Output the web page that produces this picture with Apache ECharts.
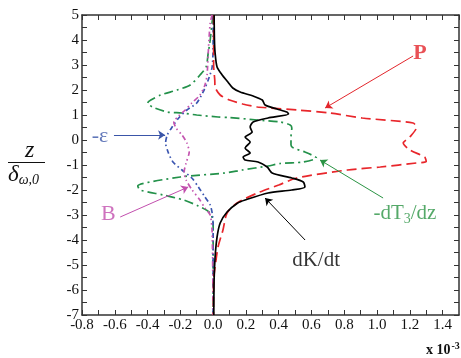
<!DOCTYPE html>
<html>
<head>
<meta charset="utf-8">
<script src="https://cdn.jsdelivr.net/npm/echarts@6/dist/echarts.min.js"></script>
<style>
  html, body { margin: 0; padding: 0; background: #fff; }
  #chart { width: 461px; height: 358px; }
</style>
</head>
<body>
<div id="chart"></div>
<script>
// Budget terms across the layer: [value (x 10^-3), z / delta_omega,0]
const dKdt = [[0.006,5],[0.008,4.0],[0.012,3.48],[0.024,2.92],[0.055,2.6],[0.09,2.32],[0.12,2.08],[0.165,1.92],[0.244,1.76],[0.30,1.6],[0.317,1.4],[0.39,1.24],[0.45,1.12],[0.46,1.04],[0.335,0.88],[0.244,0.72],[0.226,0.52],[0.238,0.32],[0.195,0.12],[0.226,-0.08],[0.195,-0.32],[0.226,-0.52],[0.183,-0.68],[0.195,-0.8],[0.274,-0.88],[0.33,-1.08],[0.36,-1.32],[0.48,-1.52],[0.55,-1.68],[0.56,-1.88],[0.48,-2.0],[0.335,-2.12],[0.195,-2.4],[0.15,-2.52],[0.085,-2.88],[0.043,-3.32],[0.024,-3.88],[0.012,-4.68],[0.006,-5.6],[0.004,-7]];
const production = [[0.003,5],[0.003,3.0],[0.01,2.4],[0.012,2.12],[0.043,1.8],[0.1,1.6],[0.18,1.44],[0.27,1.32],[0.35,1.28],[0.51,1.2],[0.71,1.08],[0.91,0.88],[1.22,0.68],[1.24,0.5],[1.2,0.12],[1.16,-0.12],[1.2,-0.4],[1.29,-0.68],[1.3,-0.86],[1.24,-0.92],[1.02,-1.08],[0.82,-1.2],[0.51,-1.52],[0.4,-1.8],[0.27,-2.12],[0.146,-2.52],[0.085,-2.92],[0.06,-3.6],[0.03,-4.28],[0.012,-5.08],[0.003,-5.6],[0.002,-7]];
const transport = [[0.0,5],[-0.006,4.72],[-0.018,4.0],[-0.03,3.48],[-0.043,2.92],[-0.08,2.6],[-0.14,2.2],[-0.22,2.0],[-0.32,1.8],[-0.38,1.6],[-0.4,1.48],[-0.37,1.32],[-0.28,1.12],[-0.19,1.08],[-0.1,1.0],[0.03,0.92],[0.1,0.9],[0.27,0.8],[0.41,0.72],[0.47,0.6],[0.48,0.48],[0.475,0.12],[0.475,-0.2],[0.49,-0.32],[0.56,-0.48],[0.63,-0.72],[0.55,-0.88],[0.41,-0.94],[0.335,-1.04],[0.177,-1.2],[0.073,-1.32],[-0.2,-1.48],[-0.46,-1.84],[-0.445,-2.0],[-0.305,-2.2],[-0.18,-2.4],[-0.09,-2.64],[-0.018,-2.92],[0.0,-3.32],[0.0,-7]];
const dissipation = [[0,5],[0,3.88],[-0.006,2.92],[-0.03,2.4],[-0.055,2.0],[-0.1,1.48],[-0.16,1.2],[-0.21,0.88],[-0.25,0.52],[-0.28,0.2],[-0.29,-0.12],[-0.275,-0.48],[-0.245,-0.88],[-0.19,-1.2],[-0.13,-1.52],[-0.09,-1.88],[-0.05,-2.28],[-0.018,-2.6],[-0.006,-2.92],[0,-3.4],[0,-7]];
const buoyancy = [[-0.006,5],[-0.018,4.68],[-0.03,3.48],[-0.037,2.6],[-0.05,2.2],[-0.08,1.8],[-0.13,1.48],[-0.17,1.2],[-0.21,0.96],[-0.24,0.72],[-0.226,0.48],[-0.19,0.2],[-0.16,-0.12],[-0.146,-0.48],[-0.165,-0.92],[-0.177,-1.28],[-0.165,-1.6],[-0.128,-2.0],[-0.085,-2.36],[-0.05,-2.72],[-0.018,-3.0],[-0.006,-3.68],[0,-7]];

// Axis ranges
const xRange = [-0.8, 1.5];
const yRange = [-7, 5];

// Annotation text anchors and arrows, in data units
const annoText = [
  { name: 'P', at: [1.262, 3.48], color: '#e3262c', size: 22, bold: true },
  { name: '-ε', at: [-0.69, 0.14], color: '#3a55a8', size: 22 },
  { name: 'B', at: [-0.64, -2.96], color: '#c24fae', size: 22 },
  { name: '-dT3/dz', at: [1.17, -2.92], color: '#2a9444', size: 21 },
  { name: 'dK/dt', at: [0.628, -4.8], color: '#000000', size: 21 }
];
const annoArrows = [
  { from: [1.22, 3.36], to: [0.683, 1.28], color: '#e3262c' },
  { from: [-0.605, 0.2], to: [-0.293, 0.2], color: '#3a55a8' },
  { from: [-0.567, -3.08], to: [-0.152, -1.88], color: '#c24fae' },
  { from: [1.037, -2.32], to: [0.652, -0.8], color: '#2a9444' },
  { from: [0.561, -4.0], to: [0.317, -2.32], color: '#000000' }
];

const serif = 'Liberation Serif';
const axisCol = '#333';

function baseX(pos, showLabels) {
  return {
    type: 'value', position: pos, min: xRange[0], max: xRange[1], interval: 0.1,
    axisLine: { show: true, onZero: false, lineStyle: { color: axisCol, width: 1.5 } },
    axisTick: { show: true, inside: true, length: 5, lineStyle: { color: axisCol, width: 1 } },
    splitLine: { show: false },
    axisLabel: {
      show: showLabels, margin: 3, color: '#111', fontFamily: serif, fontSize: 15,
      showMaxLabel: false,
      formatter: v => {
        const k = Math.round(v * 10);
        if (k % 2 !== 0 || k === 15) return '';
        return (k / 10).toFixed(1);
      }
    }
  };
}
function baseY(pos, showLabels) {
  return {
    type: 'value', position: pos, min: yRange[0], max: yRange[1], interval: 0.5,
    axisLine: { show: true, onZero: false, lineStyle: { color: axisCol, width: 1.5 } },
    axisTick: { show: true, inside: true, length: 5, lineStyle: { color: axisCol, width: 1 } },
    splitLine: { show: false },
    axisLabel: {
      show: showLabels, margin: 3, color: '#111', fontFamily: serif, fontSize: 15,
      formatter: v => {
        const k = Math.round(v * 2);
        if (k % 2 !== 0) return '';
        return String(k / 2);
      }
    }
  };
}

function curve(name, data, color, dash, width) {
  return {
    name, type: 'line', data, smooth: 0.25, symbol: 'none',
    xAxisIndex: 0, yAxisIndex: 0,
    lineStyle: { color, width: width || 1.7, type: dash, cap: 'butt' },
    z: 3
  };
}

const chart = echarts.init(document.getElementById('chart'), null, { renderer: 'canvas' });

chart.setOption({
  animation: false,
  backgroundColor: '#fff',
  grid: { left: 82, right: 2, top: 15, bottom: 43 },
  xAxis: [baseX('bottom', true), baseX('top', false)],
  yAxis: [baseY('left', true), baseY('right', false)],
  series: [
    curve('-dT3/dz', transport, '#23914a', [9, 4, 2, 4]),
    curve('-ε', dissipation, '#3a55b0', [5, 3, 1.5, 3]),
    curve('B', buoyancy, '#c455b0', [5, 3, 1.5, 3, 1.5, 3]),
    curve('P', production, '#e8262b', [10, 5]),
    curve('dK/dt', dKdt, '#000000', 'solid', 1.7),
    {
      type: 'lines', coordinateSystem: 'cartesian2d', xAxisIndex: 0, yAxisIndex: 0,
      symbol: ['none', 'arrow'], symbolSize: [0, 7], z: 5,
      data: annoArrows.map(a => ({
        coords: [a.from, a.to],
        lineStyle: { color: a.color, width: 1, type: 'solid', opacity: 1 }
      }))
    },
    {
      type: 'scatter', xAxisIndex: 0, yAxisIndex: 0, symbolSize: 0, z: 6,
      data: annoText.map(t => ({
        value: t.at,
        label: {
          show: true, position: 'inside', color: t.color,
          formatter: t.name === '-dT3/dz' ? '{a|-dT}{s|3}{a|/dz}' : '{a|' + t.name + '}',
          rich: {
            a: {
              fontFamily: serif, color: t.color, fontSize: t.size,
              fontWeight: t.bold ? 'bold' : 'normal'
            },
            s: { fontFamily: serif, color: t.color, fontSize: 14, padding: [12, 0, 0, 0] }
          }
        }
      }))
    }
  ],
  graphic: [
    { type: 'text', left: 25, top: 139,
      style: { text: 'z', font: 'italic 24px "Liberation Serif"', fill: '#111' } },
    { type: 'line', shape: { x1: 8, y1: 162.5, x2: 45, y2: 162.5 },
      style: { stroke: '#111', lineWidth: 1 } },
    { type: 'text', left: 8, top: 163,
      style: { text: '{d|δ}{s|ω,0}', rich: {
        d: { font: 'italic 23px "Liberation Serif"', fill: '#111' },
        s: { font: 'italic 14px "Liberation Serif"', fill: '#111', padding: [12, 0, 0, 0] }
      } } },
    { type: 'text', left: 426, top: 341,
      style: { text: '{b|x 10}{e|-3}', rich: {
        b: { font: 'bold 14px "Liberation Serif"', fill: '#111' },
        e: { font: 'bold 10px "Liberation Serif"', fill: '#111', padding: [0, 0, 8, 1] }
      } } }
  ]
});
</script>
</body>
</html>
